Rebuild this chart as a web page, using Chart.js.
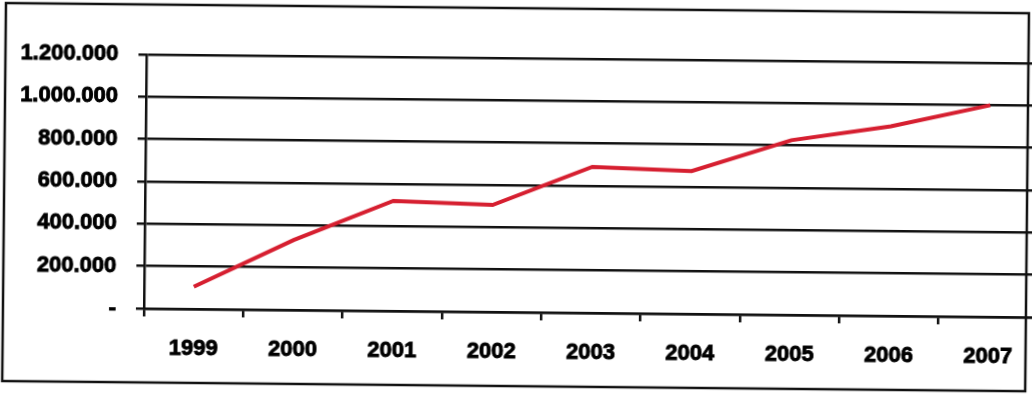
<!DOCTYPE html>
<html>
<head>
<meta charset="utf-8">
<script src="https://cdn.jsdelivr.net/npm/chart.js@4"></script>
<style>
  html, body { margin: 0; padding: 0; background: #fff; overflow: hidden; }
  #wrap {
    position: absolute; left: 0; top: 0;
    width: 1060px; height: 394px;
    transform: rotate(0.57deg); transform-origin: 0 0;
  }
</style>
</head>
<body>
<div id="wrap"><canvas id="growthChart"></canvas></div>
<script>
const years = ["1999", "2000", "2001", "2002", "2003", "2004", "2005", "2006", "2007"];
const totals = [105000, 330000, 520000, 505000, 690000, 675000, 825000, 895000, 1000000];
const yMax = 1200000;
const yStep = 200000;

const lineColor = "#d61f30";
const inkColor = "#111";
const labelFont = { family: "'Liberation Sans', Arial, sans-serif", size: 22, weight: "bold" };

// 1200000 -> "1.200.000", zero shown as a dash
function dotted(v) {
  if (v === 0) return "-";
  return String(v).replace(/\B(?=(\d{3})+(?!\d))/g, ".");
}

// box drawn round the whole chart
const framePlugin = {
  id: "frame",
  afterDraw(chart) {
    const ctx = chart.ctx;
    ctx.save();
    ctx.strokeStyle = inkColor;
    ctx.lineWidth = 2.5;
    ctx.strokeRect(6, 3, 1023, 378);
    ctx.restore();
  },
};

const growthConfig = {
  type: "line",
  data: {
    labels: years,
    datasets: [
      {
        data: totals,
        borderColor: lineColor,
        borderWidth: 4,
        pointRadius: 0,
        tension: 0,
        fill: false,
      },
    ],
  },
  options: {
    responsive: true,
    maintainAspectRatio: false,
    animation: false,
    layout: { padding: { left: 0, top: 53, right: 19, bottom: 27 } },
    plugins: {
      legend: { display: false },
      tooltip: { enabled: false },
    },
    scales: {
      x: {
        offset: true,
        grid: {
          offset: true,
          drawOnChartArea: false,
          drawTicks: true,
          tickLength: 8,
          color: inkColor,
          lineWidth: 2.5,
        },
        border: { color: inkColor, width: 2.5 },
        ticks: {
          color: "#000", font: labelFont, padding: 19, maxRotation: 0, autoSkip: false,
          textStrokeColor: "#000", textStrokeWidth: 0.9,
        },
        afterFit(scale) { scale.height = 60; },
      },
      y: {
        min: 0,
        max: yMax,
        grid: { color: inkColor, lineWidth: 2.5, tickLength: 8 },
        border: { color: inkColor, width: 2.5 },
        ticks: {
          stepSize: yStep,
          color: "#000",
          font: labelFont,
          padding: 20,
          textStrokeColor: "#000",
          textStrokeWidth: 0.9,
          callback: (v) => dotted(v),
        },
        afterFit(scale) { scale.width = 147; },
      },
    },
  },
  plugins: [framePlugin],
};

const growthChart = new Chart(document.getElementById("growthChart"), growthConfig);
</script>
</body>
</html>
